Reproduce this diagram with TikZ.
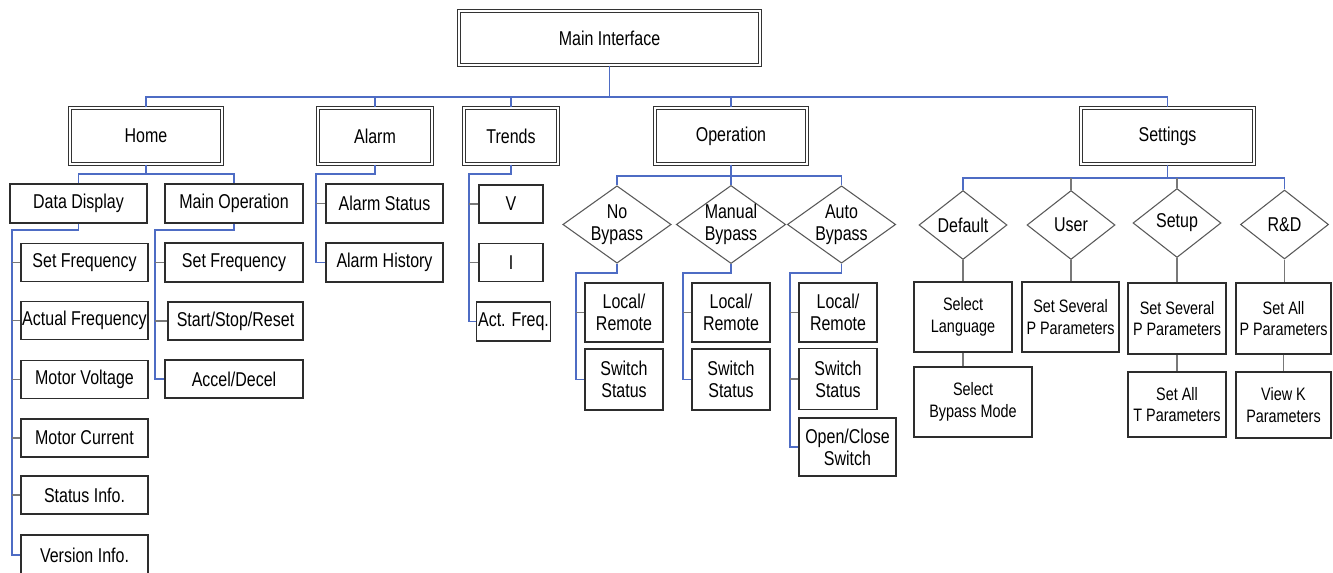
\documentclass[tikz,border=0pt]{standalone}
\usepackage{fontspec}
\setmainfont{Liberation Sans}[FakeStretch=0.8]
\usetikzlibrary{shapes.geometric}
\definecolor{busblue}{RGB}{78,108,196}
\definecolor{boxline}{RGB}{45,45,45}
\definecolor{stubgray}{RGB}{120,120,120}
\newcommand\nodefont{\fontsize{15}{16.5}\selectfont}
\newcommand\smallnodefont{\fontsize{13.5}{16}\selectfont}
\begin{document}
\begin{tikzpicture}[x=0.75pt,y=-0.75pt,
  px/.style 2 args={minimum width={#1*0.75pt}, minimum height={#2*0.75pt}},
  box/.style={draw=boxline, line width=0.9pt, fill=white, inner sep=1pt, align=center, font=\nodefont},
  sbox/.style={box, font=\smallnodefont},
  dbox/.style={draw=black!80, line width=0.8pt, double=white, double distance=2pt, align=center, font=\nodefont, inner sep=1pt},
  dia/.style={diamond, draw=black!65, line width=0.8pt, fill=white, aspect=1.4, inner sep=0pt, align=center, font=\nodefont},
  bus/.style={draw=busblue, line width=0.9pt},
  stub/.style={draw=stubgray, line width=0.8pt}]
\fill[white] (0,0) rectangle (1333,573);
\useasboundingbox (0,0) rectangle (1333,573);
\clip (0,0) rectangle (1333,573);

% top level
\node[dbox, px={301}{54}] (main) at (609.5,38) {Main Interface};
\node[dbox, px={152}{56}] (home) at (146,136) {Home};
\node[dbox, px={114}{56}] (alarm) at (375,136) {Alarm};
\node[dbox, px={94}{56}] (trends) at (511,136) {Trends};
\node[dbox, px={152}{56}] (operation) at (731,136) {Operation};
\node[dbox, px={173}{56}] (settings) at (1167.5,136) {Settings};

% home
\node[box, px={137}{39}] (dd) at (78.5,203.5) {Data Display};
\node[box, px={138}{39}] (mo) at (234,203.5) {Main Operation};
\node[box, px={127}{38}] (sf1) at (84.5,262.5) {Set Frequency};
\node[box, px={127}{38}] (af) at (84.5,320.5) {Actual Frequency};
\node[box, px={127}{38}] (mv) at (84.5,379.5) {Motor Voltage};
\node[box, px={127}{38}] (mc) at (84.5,438) {Motor Current};
\node[box, px={127}{38}] (si) at (84.5,495) {Status Info.};
\node[box, px={127}{40}] (vi) at (84.5,555) {Version Info.};
\node[box, px={138}{39}] (sf2) at (234,262.5) {Set Frequency};
\node[box, px={135}{38}] (ssr) at (235.5,321) {Start/Stop/Reset};
\node[box, px={138}{38}] (ad) at (234,379) {Accel/Decel};

% alarm
\node[box, px={117}{39}] (as) at (384.5,203.5) {Alarm Status};
\node[box, px={117}{39}] (ah) at (384.5,262.5) {Alarm History};

% trends
\node[box, px={64}{38}] (tv) at (511,204) {V};
\node[box, px={64}{38}] (ti) at (511,262.5) {I};
\node[box, px={73}{39}] (taf) at (513.5,321.5) {Act. Freq.};

% operation
\node[dia, px={107}{77}] (nb) at (617,224.5) {No\\Bypass};
\node[dia, px={107}{77}] (mb) at (731,224.5) {Manual\\Bypass};
\node[dia, px={107}{77}] (ab) at (841.5,224.5) {Auto\\Bypass};
\node[box, px={78}{59}] (nblr) at (624,312.5) {Local/\\Remote};
\node[box, px={78}{61}] (nbss) at (624,379.5) {Switch\\Status};
\node[box, px={78}{59}] (mblr) at (731,312.5) {Local/\\Remote};
\node[box, px={78}{61}] (mbss) at (731,379.5) {Switch\\Status};
\node[box, px={78}{59}] (ablr) at (838,312.5) {Local/\\Remote};
\node[box, px={78}{61}] (abss) at (838,379) {Switch\\Status};
\node[box, px={97}{58}] (aboc) at (847.5,447) {Open/Close\\Switch};

% settings
\node[dia, px={88}{69}] (def) at (963,225) {Default};
\node[dia, px={88}{69}] (user) at (1071,225) {User};
\node[dia, px={88}{69}] (setup) at (1177,223) {Setup};
\node[dia, px={88}{69}] (rd) at (1284.5,224.5) {R\&D};
\node[sbox, px={98}{70}] (sl) at (963,317) {Select\\Language};
\node[sbox, px={118}{70}] (sbm) at (973,402) {Select\\Bypass Mode};
\node[sbox, px={97}{70}] (usp) at (1070.5,317) {Set Several\\P Parameters};
\node[sbox, px={98}{71}] (ssp) at (1177,318.5) {Set Several\\P Parameters};
\node[sbox, px={98}{65}] (sat) at (1177,404.5) {Set All\\T Parameters};
\node[sbox, px={95}{71}] (sap) at (1283.5,318.5) {Set All\\P Parameters};
\node[sbox, px={95}{66}] (vk) at (1283.5,405) {View K\\Parameters};

% ---- connectors ----
\coordinate (topbus) at (0,97);
\draw[bus] (main.south) -- (main.south |- topbus);
\draw[bus] (home.north) |- (topbus -| settings.north) -- (settings.north);
\draw[bus] (alarm.north) -- (alarm.north |- topbus);
\draw[bus] (trends.north) -- (trends.north |- topbus);
\draw[bus] (operation.north) -- (operation.north |- topbus);

% home
\coordinate (hbus) at (0,174);
\draw[bus] (home.south) -- (home.south |- hbus);
\draw[bus] (dd.north) |- (hbus -| mo.north) -- (mo.north);
\coordinate (ddr) at (12,230);
\draw[bus] (dd.south) |- (ddr) |- (vi.west);
\foreach \n in {sf1,af,mv,mc,si} \draw[stub] (ddr |- \n.west) -- (\n.west);
\coordinate (mor) at (155,230);
\draw[bus] (mo.south) |- (mor) |- (ad.west);
\foreach \n in {sf2,ssr} \draw[stub] (mor |- \n.west) -- (\n.west);

% alarm
\coordinate (alr) at (316,174);
\draw[bus] (alarm.south) |- (alr) |- (ah.west);
\draw[stub] (alr |- as.west) -- (as.west);

% trends
\coordinate (trr) at (469,174);
\draw[bus] (trends.south) |- (trr) |- (taf.west);
\foreach \n in {tv,ti} \draw[stub] (trr |- \n.west) -- (\n.west);

% operation
\coordinate (opbus) at (0,176);
\draw[bus] (operation.south) -- (operation.south |- opbus);
\draw[bus] (nb.north) |- (opbus -| ab.north) -- (ab.north);
\draw[bus] (mb.north) -- (mb.north |- opbus);
\coordinate (nbr) at (576,273);
\draw[bus] (nb.south) |- (nbr) |- (nbss.west);
\draw[stub] (nbr |- nblr.west) -- (nblr.west);
\coordinate (mbr) at (683,273);
\draw[bus] (mb.south) |- (mbr) |- (mbss.west);
\draw[stub] (mbr |- mblr.west) -- (mblr.west);
\coordinate (abr) at (790,273);
\draw[bus] (ab.south) |- (abr) |- (aboc.west);
\foreach \n in {ablr,abss} \draw[stub] (abr |- \n.west) -- (\n.west);

% settings
\coordinate (sbus) at (0,178);
\draw[bus] (settings.south) -- (settings.south |- sbus);
\draw[bus] (def.north) |- (sbus -| rd.north) -- (rd.north);
\draw[stub] (user.north) -- (user.north |- sbus);
\draw[stub] (setup.north) -- (setup.north |- sbus);
\draw[stub] (def.south) -- (sl.north);
\draw[stub] (sl.south) -- (sl.south |- sbm.north);
\draw[stub] (user.south) -- (user.south |- usp.north);
\draw[stub] (setup.south) -- (ssp.north);
\draw[stub] (ssp.south) -- (sat.north);
\draw[stub] (rd.south) -- (rd.south |- sap.north);
\draw[stub] (sap.south) -- (vk.north);
\end{tikzpicture}
\end{document}
